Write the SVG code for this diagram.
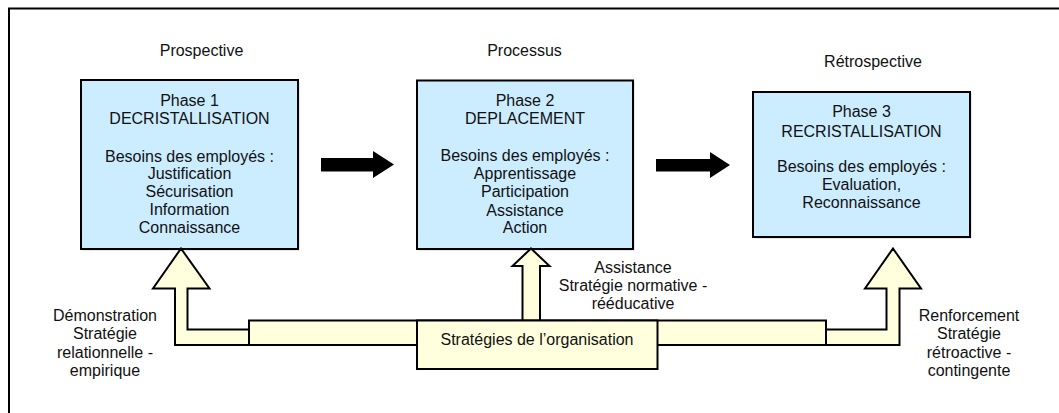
<svg xmlns="http://www.w3.org/2000/svg" width="1059" height="413" viewBox="0 0 1059 413">
<style>
text{font-family:"Liberation Sans",Arial,sans-serif;font-size:16px;fill:#111;text-anchor:middle}
.box{fill:#CCECFF;stroke:#000;stroke-width:2}
.shadow{fill:#d2d2d2}
.y{fill:#FFFFDE;stroke:#000;stroke-width:2;stroke-linejoin:miter}
.blk{fill:#000}
</style>
<rect x="9" y="8.5" width="1070" height="420" fill="#fff" stroke="#000" stroke-width="2"/>
<g id="labels">
<text x="201.5" y="56">Prospective</text>
<text x="524.5" y="55.5">Processus</text>
<text x="873" y="67.3">Rétrospective</text>
</g>
<g id="phase1">
<rect class="shadow" x="82.5" y="81.5" width="217" height="169"/>
<rect class="box" x="81" y="80" width="217" height="169"/>
<text x="189.5" y="106">Phase 1</text>
<text x="189.5" y="124.3">DECRISTALLISATION</text>
<text x="189.5" y="161.5">Besoins des employés :</text>
<text x="189.5" y="179">Justification</text>
<text x="189.5" y="197">Sécurisation</text>
<text x="189.5" y="215">Information</text>
<text x="189.5" y="233">Connaissance</text>
</g>
<g id="phase2">
<rect class="shadow" x="418.5" y="82" width="216" height="168.5"/>
<rect class="box" x="417" y="80.5" width="216" height="168.5"/>
<text x="525" y="105.7">Phase 2</text>
<text x="525" y="124">DEPLACEMENT</text>
<text x="525" y="161">Besoins des employés :</text>
<text x="525" y="179">Apprentissage</text>
<text x="525" y="197.3">Participation</text>
<text x="525" y="215.5">Assistance</text>
<text x="525" y="233.3">Action</text>
</g>
<g id="phase3">
<rect class="shadow" x="754.5" y="93.5" width="217" height="145"/>
<rect class="box" x="753" y="92" width="217" height="145"/>
<text x="861.5" y="117.3">Phase 3</text>
<text x="861.5" y="136.7">RECRISTALLISATION</text>
<text x="861.5" y="172.3">Besoins des employés :</text>
<text x="861.5" y="190">Evaluation,</text>
<text x="861.5" y="208.3">Reconnaissance</text>
</g>
<g id="connectors">
<polygon class="blk" points="321,158 373,158 373,151 394,164.5 373,178 373,171.5 321,171.5"/>
<polygon class="blk" points="656,159 710,159 710,152 730,165 710,178 710,171.5 656,171.5"/>
<polygon class="y" points="181,248.5 209.5,288.5 187.5,288.5 187.5,329.5 262,329.5 262,345 175,345 175,288.5 153,288.5"/>
<polygon class="y" points="893,248.5 921,288.5 899.5,288.5 899.5,345 815,345 815,329.5 886.5,329.5 886.5,288.5 865,288.5"/>
<polygon class="y" points="531,248.5 549.5,266 540,266 540,326 522.5,326 522.5,266 512.5,266"/>
</g>
<g id="strategies">
<rect class="y" x="249" y="320.5" width="577" height="24.5"/>
<rect class="y" x="417" y="320.5" width="240.5" height="48.5"/>
<text x="537" y="345">Stratégies de l’organisation</text>
</g>
<g id="strategy-labels">
<text x="105" y="320.7">Démonstration</text>
<text x="105" y="338.5">Stratégie</text>
<text x="105" y="357.5">relationnelle -</text>
<text x="105" y="375.7">empirique</text>
<text x="633" y="272.7">Assistance</text>
<text x="633" y="291">Stratégie normative -</text>
<text x="633" y="309.3">rééducative</text>
<text x="969" y="320.7">Renforcement</text>
<text x="969" y="338.5">Stratégie</text>
<text x="969" y="357.5">rétroactive -</text>
<text x="969" y="375.7">contingente</text>
</g>
</svg>
